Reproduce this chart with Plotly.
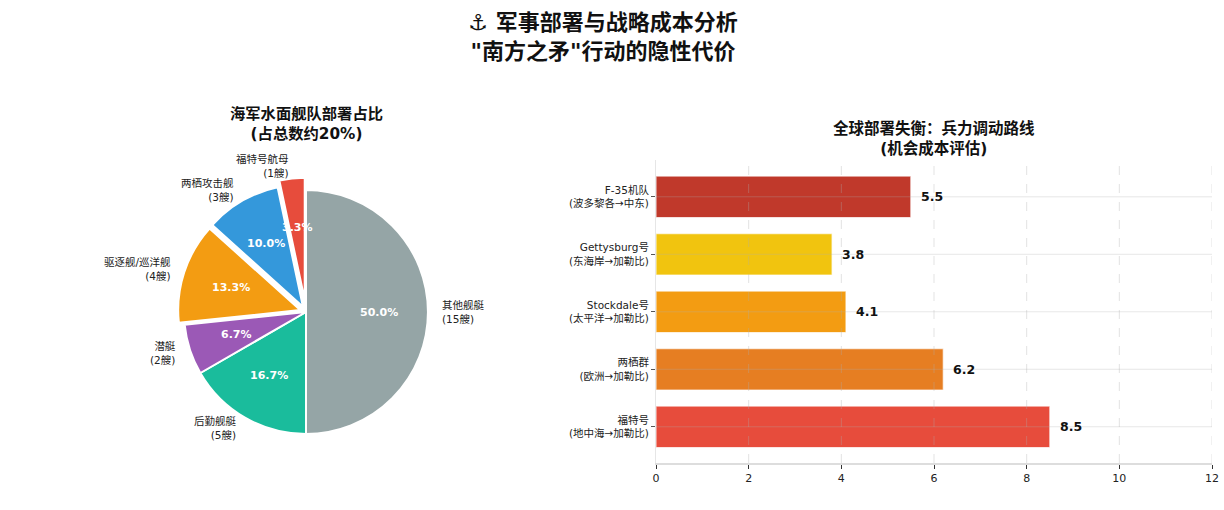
import math
import plotly.graph_objects as go

# ---------------- data ----------------
pie_labels = ["其他舰艇", "后勤舰艇", "潜艇", "驱逐舰/巡洋舰", "两栖攻击舰", "福特号航母"]
pie_counts = [15, 5, 2, 4, 3, 1]
pie_colors = ["#95a5a6", "#1abc9c", "#9b59b6", "#f39c12", "#3498db", "#e74c3c"]
pie_pull = [0, 0, 0, 0.05, 0.05, 0.1]

bar_labels = ["F-35机队<br>(波多黎各→中东)", "Gettysburg号<br>(东海岸→加勒比)",
              "Stockdale号<br>(太平洋→加勒比)", "两栖群<br>(欧洲→加勒比)",
              "福特号<br>(地中海→加勒比)"]
bar_values = [5.5, 3.8, 4.1, 6.2, 8.5]
bar_colors = ["#c0392b", "#f1c40f", "#f39c12", "#e67e22", "#e74c3c"]
x_ticks = [0, 2, 4, 6, 8, 10, 12]

FONT = "DejaVu Sans, Noto Sans CJK SC, sans-serif"
W, H = 1224, 510

# pie geometry (pixels -> paper)
PIE_CX, PIE_CY, PIE_R = 306, 312, 122
max_pull = max(pie_pull)
box = PIE_R * (2 + 2 * max_pull)
pie_dom = dict(x=[(PIE_CX - box / 2) / W, (PIE_CX + box / 2) / W],
               y=[1 - (PIE_CY + box / 2) / H, 1 - (PIE_CY - box / 2) / H])

fig = go.Figure()

fig.add_trace(go.Pie(
    labels=pie_labels, values=pie_counts, sort=False, direction="clockwise",
    rotation=0, pull=pie_pull, domain=pie_dom,
    marker=dict(colors=pie_colors, line=dict(color="white", width=2)),
    textinfo="none", showlegend=False, hoverinfo="label+value+percent",
))

annotations = []

# pie labels / percentages (matplotlib-like placement)
total = sum(pie_counts)
cum = 0
for lab, c, p in zip(pie_labels, pie_counts, pie_pull):
    theta = math.radians(360 * (cum + c / 2) / total)
    cum += c
    dx, dy = math.sin(theta), math.cos(theta)
    px = PIE_CX + (p + 0.6) * PIE_R * dx
    py = PIE_CY - (p + 0.6) * PIE_R * dy
    annotations.append(dict(x=px / W, y=1 - py / H, xref="paper", yref="paper",
                            text=f"<b>{100 * c / total:.1f}%</b>", showarrow=False,
                            xanchor="center", yanchor="middle",
                            font=dict(size=11, color="white", family=FONT)))
    lx = PIE_CX + (p + 1.1) * PIE_R * dx
    ly = PIE_CY - (p + 1.1) * PIE_R * dy
    side = "left" if dx > 0 else "right"
    annotations.append(dict(x=lx / W, y=1 - ly / H, xref="paper", yref="paper",
                            text=f"{lab}<br>({c}艘)", showarrow=False,
                            xanchor=side, yanchor="middle", align=side,
                            font=dict(size=10.5, color="#222", family=FONT)))

# bar chart
fig.add_trace(go.Bar(
    y=bar_labels, x=bar_values, orientation="h",
    marker=dict(color=bar_colors, line=dict(color="rgba(255,255,255,0.7)", width=1.2)),
    width=0.72, showlegend=False, xaxis="x", yaxis="y",
    hovertemplate="%{x}<extra></extra>",
))

for lab, v in zip(bar_labels, bar_values):
    annotations.append(dict(x=v, y=lab, xref="x", yref="y", text=f"<b>{v}</b>",
                            showarrow=False, xanchor="left", xshift=8,
                            font=dict(size=12.5, color="#111", family=FONT)))

annotations.append(dict(x=PIE_CX / W, y=1 - 124 / H, xref="paper", yref="paper",
                        xanchor="center", yanchor="middle",
                        text="<b>海军水面舰队部署占比<br>(占总数约20%)</b>",
                        showarrow=False, font=dict(size=15.3, color="#111", family=FONT)))
annotations.append(dict(x=934 / W, y=1 - 139 / H, xref="paper", yref="paper",
                        xanchor="center", yanchor="middle",
                        text="<b>全球部署失衡：兵力调动路线<br>(机会成本评估)</b>",
                        showarrow=False, font=dict(size=15.5, color="#111", family=FONT)))

shapes = []
for t in x_ticks[1:]:
    shapes.append(dict(type="line", xref="x", yref="y domain", x0=t, x1=t, y0=0, y1=1,
                       line=dict(color="rgba(176,176,176,0.35)", width=1, dash="dash"),
                       layer="above"))
for lab in bar_labels:
    shapes.append(dict(type="line", xref="x domain", yref="y", x0=0, x1=1, y0=lab, y1=lab,
                       line=dict(color="rgba(176,176,176,0.3)", width=1),
                       layer="above"))

fig.update_layout(
    width=W, height=H,
    margin=dict(l=0, r=0, t=0, b=0, autoexpand=False),
    paper_bgcolor="white", plot_bgcolor="white",
    font=dict(family=FONT, color="#222"),
    title=dict(text="<b>⚓ 军事部署与战略成本分析<br>\"南方之矛\"行动的隐性代价</b>",
               x=603 / W, xanchor="center", y=1 - 30 / H, yanchor="middle",
               font=dict(size=22, color="#111", family=FONT)),
    xaxis=dict(domain=[656 / W, 1212 / W], range=[0, 12], tickvals=x_ticks,
               showgrid=False, zeroline=False, showline=True, linecolor="#dddddd",
               linewidth=2, ticks="outside", ticklen=4, tickcolor="#333",
               tickfont=dict(size=11, color="#222"), automargin=False),
    yaxis=dict(domain=[1 - 463 / H, 1 - 160 / H], range=[4.63, -0.64], type="category",
               showgrid=False, zeroline=False, showline=True, linecolor="#e6e6e6",
               linewidth=1, ticks="outside", ticklen=4, tickcolor="#555",
               tickfont=dict(size=10.5, color="#222"), automargin=False),
    annotations=annotations, shapes=shapes,
)

fig.write_html("out.html", config={"displayModeBar": False},
               post_script="document.body.style.margin='0px';document.body.style.overflow='hidden';")
